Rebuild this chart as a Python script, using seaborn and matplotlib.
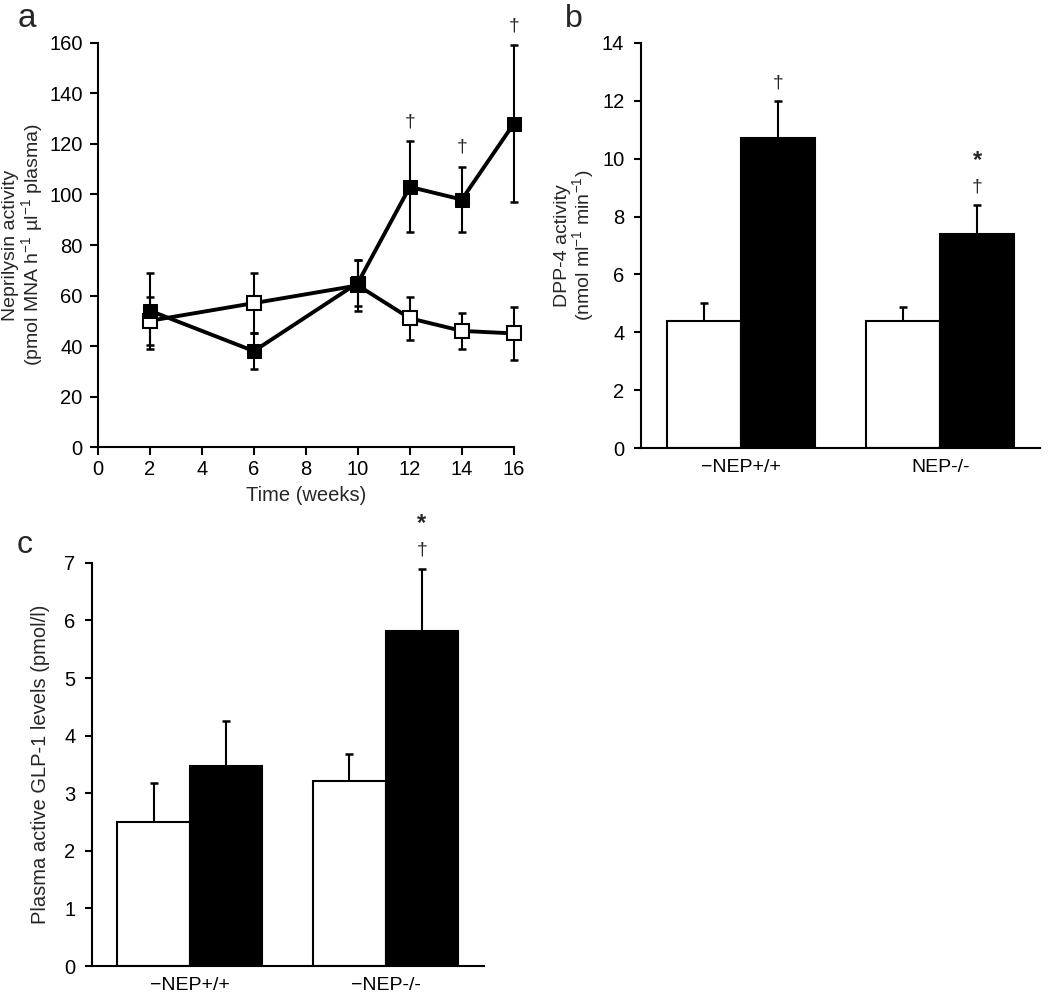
import pandas as pd
import matplotlib
matplotlib.use('Agg')
import matplotlib.pyplot as plt
import seaborn as sns
import numpy as np

# -------------------------------
# Data
# -------------------------------
weeks = [2, 6, 10, 12, 14, 16]
nep_white = [50, 57, 64, 51, 46, 45]
nep_white_err = [9.5, 12, 10, 8.5, 7, 10.5]
nep_black = [54, 38, 65, 103, 98, 128]
nep_black_err = [15, 7, 9, 18, 13, 31]
nep_dagger_weeks = [12, 14, 16]

genotypes_b = ['\u2212NEP+/+', 'NEP-/-']
genotypes_c = ['\u2212NEP+/+', '\u2212NEP-/-']
diets = ['Control', 'Treated']

dpp4_white = [4.4, 4.4]
dpp4_white_err = [0.62, 0.48]
dpp4_black = [10.7, 7.4]
dpp4_black_err = [1.3, 1.0]

glp1_white = [2.5, 3.22]
glp1_white_err = [0.67, 0.46]
glp1_black = [3.47, 5.82]
glp1_black_err = [0.78, 1.08]

# -------------------------------
# Style
# -------------------------------
sns.set_style('ticks')
plt.rcParams['font.family'] = ['Liberation Sans', 'DejaVu Sans']
plt.rcParams['mathtext.fontset'] = 'custom'
plt.rcParams['mathtext.rm'] = 'Liberation Sans'
plt.rcParams['mathtext.it'] = 'Liberation Sans'
plt.rcParams['axes.linewidth'] = 1.5
plt.rcParams['axes.edgecolor'] = 'black'
plt.rcParams['xtick.color'] = 'black'
plt.rcParams['ytick.color'] = 'black'

fig = plt.figure(figsize=(10.5, 9.98), dpi=100)
ax_a = fig.add_axes([0.0933, 0.552, 0.396, 0.405])
ax_b = fig.add_axes([0.6105, 0.551, 0.380, 0.406])
ax_c = fig.add_axes([0.0876, 0.032, 0.373, 0.404])

err_kw = dict(fmt='none', ecolor='black', elinewidth=1.5, capsize=3, capthick=1.8)

# -------------------------------
# a. Neprilysin activity over time
# -------------------------------
for vals, errs in [(nep_white, nep_white_err), (nep_black, nep_black_err)]:
    eb = ax_a.errorbar(weeks, vals, yerr=errs, zorder=2, **err_kw)
    for art in eb.lines[1] + eb.lines[2]:
        art.set_clip_on(False)

sns.lineplot(x=weeks, y=nep_white, color='black', marker='s', markersize=10,
             markerfacecolor='white', markeredgecolor='black', markeredgewidth=1.5,
             linewidth=2.8, ax=ax_a, zorder=3, clip_on=False)
sns.lineplot(x=weeks, y=nep_black, color='black', marker='s', markersize=10,
             markerfacecolor='black', markeredgecolor='black',
             linewidth=2.8, ax=ax_a, zorder=4, clip_on=False)

for w in nep_dagger_weeks:
    i = weeks.index(w)
    ax_a.annotate('\u2020', (w, nep_black[i] + nep_black_err[i]), xytext=(0, 8),
                  textcoords='offset points', ha='center', va='bottom', fontsize=14,
                  annotation_clip=False)

ax_a.set_xlim(0, 16)
ax_a.set_ylim(0, 160)
ax_a.set_xticks(range(0, 17, 2))
ax_a.set_yticks(range(0, 161, 20))
ax_a.set_xlabel('Time (weeks)', fontsize=14.5, labelpad=5)
ax_a.set_ylabel('Neprilysin activity\n(pmol MNA h$^{-1}$ \u00b5l$^{-1}$ plasma)', fontsize=14,
                linespacing=1.0, labelpad=3)
ax_a.tick_params(labelsize=14.5, width=1.5, length=6)
ax_a.tick_params(axis='y', pad=5)
ax_a.tick_params(axis='x', pad=3)


# -------------------------------
# bar panels b and c
# -------------------------------
def bar_panel(ax, groups, white, white_err, black, black_err, marks):
    df = pd.DataFrame({
        'genotype': groups * 2,
        'diet': [diets[0]] * len(groups) + [diets[1]] * len(groups),
        'value': white + black,
    })
    sns.barplot(data=df, x='genotype', y='value', hue='diet', hue_order=diets,
                palette=['white', 'black'], edgecolor='black', linewidth=1.5,
                width=0.74, saturation=1, errorbar=None, legend=False, ax=ax, zorder=2)
    for cont, vals, errs in zip(ax.containers, [white, black], [white_err, black_err]):
        xs = [bar.get_x() + bar.get_width() / 2 for bar in cont]
        ax.errorbar(xs, vals, yerr=[np.zeros(len(vals)), errs], zorder=1, **err_kw)
    black_bars = ax.containers[1]
    for bar, v, e, m in zip(black_bars, black, black_err, marks):
        x = bar.get_x() + bar.get_width() / 2
        if '\u2020' in m:
            ax.annotate('\u2020', (x, v + e), xytext=(0, 7), textcoords='offset points',
                        ha='center', va='bottom', fontsize=14, annotation_clip=False)
        if '*' in m:
            ax.annotate('*', (x, v + e), xytext=(0, 24), textcoords='offset points',
                        ha='center', va='bottom', fontsize=17, fontweight='bold',
                        annotation_clip=False)
    ax.set_xlim(-0.5, 1.5)
    ax.set_xlabel('')
    ax.tick_params(axis='x', length=0, labelsize=14, pad=8)
    ax.tick_params(axis='y', labelsize=14.5, width=1.5, length=5, pad=7)


bar_panel(ax_b, genotypes_b, dpp4_white, dpp4_white_err, dpp4_black, dpp4_black_err,
          ['\u2020', '\u2020*'])
ax_b.set_ylim(0, 14)
ax_b.set_yticks(range(0, 15, 2))
ax_b.set_ylabel('DPP-4 activity\n(nmol ml$^{-1}$ min$^{-1}$)', fontsize=14,
                linespacing=1.0, labelpad=4)

bar_panel(ax_c, genotypes_c, glp1_white, glp1_white_err, glp1_black, glp1_black_err,
          ['', '\u2020*'])
ax_c.set_ylim(0, 7)
ax_c.set_yticks(range(0, 8))
ax_c.set_ylabel('Plasma active GLP-1 levels (pmol/l)', fontsize=14.5, labelpad=10)

for ax in [ax_a, ax_b, ax_c]:
    sns.despine(ax=ax)

# panel letters
fig.text(18 / 1050, 1 - 27 / 998, 'a', fontsize=24, va='baseline')
fig.text(565 / 1050, 1 - 27 / 998, 'b', fontsize=23, va='baseline')
fig.text(17 / 1050, 1 - 553 / 998, 'c', fontsize=23, va='baseline')

plt.savefig('out.png', dpi=100)
